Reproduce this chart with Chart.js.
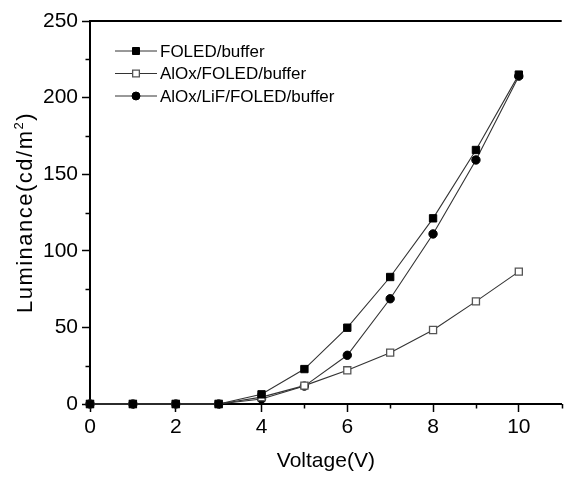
<!DOCTYPE html>
<html lang="en">
<head>
    <meta charset="UTF-8">
    <title>Luminance vs Voltage</title>
    <script src="https://cdn.jsdelivr.net/npm/chart.js"></script>
    <style>
        body { margin: 0; background: #fff; }
        #wrap { width: 568px; height: 478px; }
    </style>
</head>
<body>
    <div id="wrap"><canvas id="lumChart"></canvas></div>
    <script>
        // data
        const voltage = [0, 1, 2, 3, 4, 5, 6, 7, 8, 9, 10];
        const foledBuffer = [0, 0, 0, 0, 6.3, 22.8, 49.8, 82.9, 121.2, 165.8, 215];
        const alOxFoled = [0, 0, 0, 0, 4.5, 12, 22, 33.5, 48.3, 67, 86.4];
        const alOxLiFFoled = [0, 0, 0, 0, 3.3, 11.7, 31.8, 68.7, 111, 159.3, 214];
        const seriesLabels = ['FOLED/buffer', 'AlOx/FOLED/buffer', 'AlOx/LiF/FOLED/buffer'];
        const yMinorTicks = [25, 75, 125, 175, 225];
        const xMinorTicks = [1, 3, 5, 7, 9, 11];

        const FONT = '"Liberation Sans", Arial, sans-serif';

        function toPoints(ys) {
            return voltage.map((v, i) => ({ x: v, y: ys[i] }));
        }

        // minor ticks + top frame line
        const framePlugin = {
            id: 'frame',
            afterDraw(chart) {
                const ctx = chart.ctx;
                const area = chart.chartArea;
                const xs = chart.scales.x, ys = chart.scales.y;
                ctx.save();
                ctx.strokeStyle = '#000';
                ctx.lineWidth = 1.5;
                ctx.beginPath();
                yMinorTicks.forEach(v => {
                    const py = Math.round(ys.getPixelForValue(v)) + 0.5;
                    ctx.moveTo(area.left - 4.5, py);
                    ctx.lineTo(area.left, py);
                });
                xMinorTicks.forEach(v => {
                    const px = Math.round(xs.getPixelForValue(v)) + 0.5;
                    ctx.moveTo(px, area.bottom);
                    ctx.lineTo(px, area.bottom + 4.5);
                });
                ctx.stroke();
                ctx.lineWidth = 2;
                ctx.beginPath();
                ctx.moveTo(area.left, area.top);
                ctx.lineTo(area.right, area.top);
                ctx.stroke();
                ctx.restore();
            }
        };

        // y title with a real superscript
        const yTitlePlugin = {
            id: 'yTitle',
            afterDraw(chart) {
                const ctx = chart.ctx;
                const area = chart.chartArea;
                const main = 'Luminance(cd/m', sup = '2', close = ')';
                ctx.save();
                ctx.fillStyle = '#000';
                ctx.letterSpacing = '1.5px';
                ctx.textBaseline = 'alphabetic';
                ctx.font = '22px ' + FONT;
                const wMain = ctx.measureText(main).width;
                const wClose = ctx.measureText(close).width;
                ctx.font = '13px ' + FONT;
                const wSup = ctx.measureText(sup).width;
                const total = wMain + wSup + wClose;
                ctx.translate(32, (area.top + area.bottom) / 2);
                ctx.rotate(-Math.PI / 2);
                let x = -total / 2;
                ctx.font = '22px ' + FONT;
                ctx.fillText(main, x, 0);
                x += wMain;
                ctx.font = '13px ' + FONT;
                ctx.fillText(sup, x, -9);
                x += wSup;
                ctx.font = '22px ' + FONT;
                ctx.fillText(close, x, 0);
                ctx.restore();
            }
        };

        // legend drawn as line + marker + label, like the original
        const legendPlugin = {
            id: 'lineLegend',
            afterDraw(chart) {
                const ctx = chart.ctx;
                ctx.save();
                ctx.font = '17px ' + FONT;
                ctx.textBaseline = 'middle';
                chart.data.datasets.forEach((ds, i) => {
                    const y = 51 + i * 22.5;
                    const x0 = 115, x1 = 157;
                    ctx.strokeStyle = ds.borderColor;
                    ctx.lineWidth = 1;
                    ctx.beginPath();
                    ctx.moveTo(x0, y);
                    ctx.lineTo(x1, y);
                    ctx.stroke();
                    ctx.fillStyle = ds.pointBackgroundColor;
                    ctx.strokeStyle = ds.pointBorderColor;
                    ctx.lineWidth = ds.pointBorderWidth;
                    Chart.helpers.drawPoint(ctx, {
                        pointStyle: ds.pointStyle,
                        radius: ds.pointRadius * 0.95,
                        borderWidth: ds.pointBorderWidth,
                        rotation: 0
                    }, (x0 + x1) / 2, y);
                    ctx.fillStyle = '#000';
                    ctx.fillText(ds.label, x1 + 3, y + 1);
                });
                ctx.restore();
            }
        };

        const ctx = document.getElementById('lumChart').getContext('2d');
        new Chart(ctx, {
            type: 'line',
            data: {
                datasets: [
                    {
                        label: seriesLabels[0],
                        data: toPoints(foledBuffer),
                        borderColor: '#333',
                        borderWidth: 1.1,
                        pointStyle: 'rect',
                        pointRadius: 5.2,
                        pointBackgroundColor: '#000',
                        pointBorderColor: '#000',
                        pointBorderWidth: 1
                    },
                    {
                        label: seriesLabels[1],
                        data: toPoints(alOxFoled),
                        borderColor: '#333',
                        borderWidth: 1.1,
                        pointStyle: 'rect',
                        pointRadius: 5.0,
                        pointBackgroundColor: '#fff',
                        pointBorderColor: '#555',
                        pointBorderWidth: 1.3
                    },
                    {
                        label: seriesLabels[2],
                        data: toPoints(alOxLiFFoled),
                        borderColor: '#333',
                        borderWidth: 1.1,
                        pointStyle: 'circle',
                        pointRadius: 4.2,
                        pointBackgroundColor: '#000',
                        pointBorderColor: '#000',
                        pointBorderWidth: 1
                    }
                ]
            },
            options: {
                responsive: true,
                maintainAspectRatio: false,
                animation: false,
                clip: false,
                layout: { padding: { top: 21, right: 0, left: 0, bottom: 0 } },
                plugins: {
                    legend: { display: false },
                    tooltip: { enabled: false }
                },
                scales: {
                    x: {
                        type: 'linear',
                        min: 0,
                        max: 11,
                        afterFit: s => { s.height = 74; s.paddingRight = 0; s.paddingLeft = 0; },
                        border: { color: '#000', width: 2 },
                        grid: { drawOnChartArea: false, drawTicks: true, tickLength: 8, tickColor: '#000', tickWidth: 1.5 },
                        ticks: {
                            stepSize: 2,
                            includeBounds: false,
                            color: '#000',
                            padding: 3,
                            maxRotation: 0,
                            font: { family: FONT, size: 21 }
                        },
                        title: {
                            display: true,
                            text: 'Voltage(V)',
                            color: '#000',
                            padding: { top: 0, bottom: 4 },
                            font: { family: FONT, size: 21 }
                        }
                    },
                    y: {
                        min: 0,
                        max: 250,
                        afterFit: s => { s.width = 90; },
                        border: { color: '#000', width: 2 },
                        grid: { drawOnChartArea: false, drawTicks: true, tickLength: 8, tickColor: '#000', tickWidth: 1.5 },
                        ticks: {
                            stepSize: 50,
                            color: '#000',
                            padding: 4,
                            font: { family: FONT, size: 21 }
                        }
                    }
                }
            },
            plugins: [framePlugin, yTitlePlugin, legendPlugin]
        });
    </script>
</body>
</html>
